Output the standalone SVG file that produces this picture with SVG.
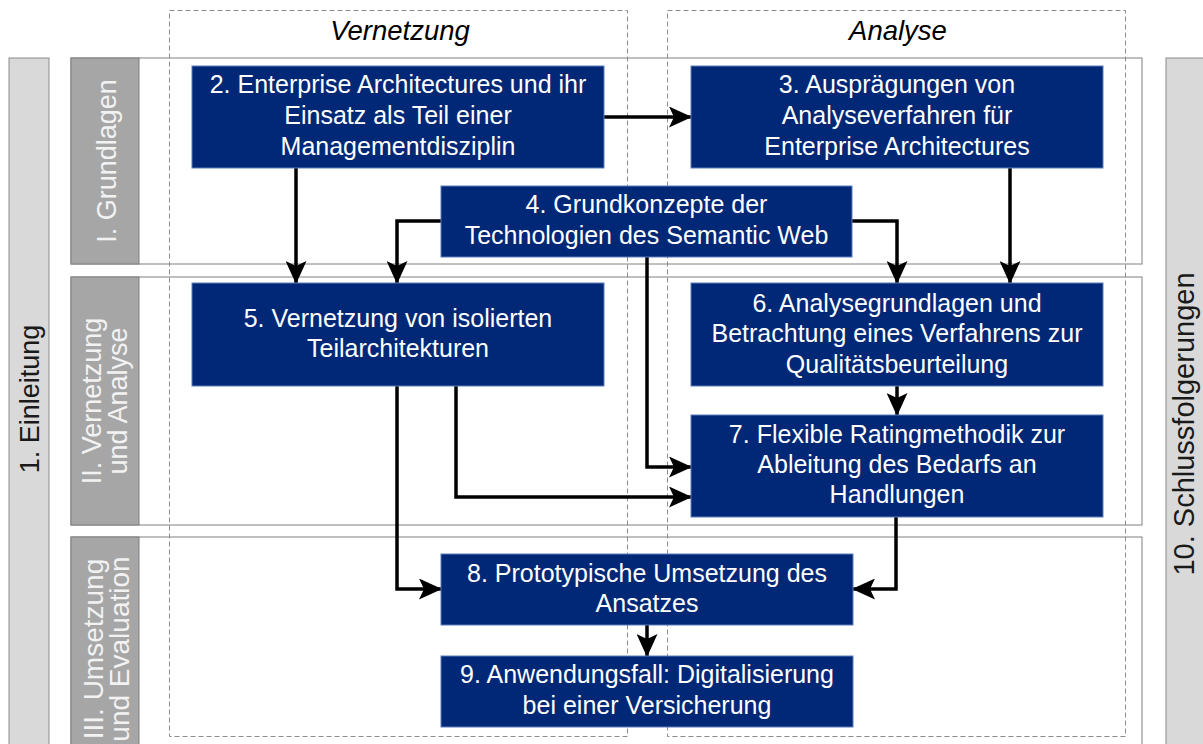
<svg xmlns="http://www.w3.org/2000/svg" width="1203" height="744" viewBox="0 0 1203 744">
<style>
.bar{fill:#d9d9d9;stroke:#8c8c8c;stroke-width:1}
.frame{fill:#ffffff;stroke:#808080;stroke-width:1}
.lab{fill:#a6a6a6;stroke:#7f7f7f;stroke-width:1}
.col{fill:none;stroke:#8c8c8c;stroke-width:1;stroke-dasharray:5,3}
.box{fill:#012877;stroke:#5d7cbc;stroke-width:1}
.bt{font-family:"Liberation Sans",Arial,sans-serif;font-size:25px;fill:#ffffff;text-anchor:middle}
.vt{font-family:"Liberation Sans",Arial,sans-serif;font-size:27px;text-anchor:middle}
.title{font-family:"Liberation Sans",Arial,sans-serif;font-size:27.5px;font-style:italic;fill:#000;text-anchor:middle}
.con{fill:none;stroke:#000;stroke-width:3.5;stroke-linejoin:miter}
</style>
<defs>
<marker id="ah" markerUnits="userSpaceOnUse" markerWidth="23" markerHeight="21" viewBox="0 0 23 21" refX="22" refY="10.5" orient="auto">
<path d="M0,0 L23,10.5 L0,21 L5,10.5 z" fill="#000"/>
</marker>
</defs>

<g id="side-bars">
<rect class="bar" x="9" y="58" width="40" height="700"/>
<text class="vt" fill="#1a1a1a" transform="translate(39,399) rotate(-90)">1. Einleitung</text>
<rect class="bar" x="1166" y="58" width="50" height="700"/>
<text class="vt" fill="#1a1a1a" style="font-size:29px" transform="translate(1194,424) rotate(-90)">10. Schlussfolgerungen</text>
</g>

<g id="sections">
<g id="section-1">
<rect class="frame" x="71" y="58" width="1071" height="206"/>
<rect class="lab" x="71" y="58" width="68" height="206"/>
<text class="vt" fill="#f2f2f2" transform="translate(116,161) rotate(-90)">I. Grundlagen</text>
</g>
<g id="section-2">
<rect class="frame" x="71" y="277" width="1071" height="248"/>
<rect class="lab" x="71" y="277" width="68" height="248"/>
<text class="vt" fill="#f2f2f2" transform="translate(101,401) rotate(-90)">II. Vernetzung</text>
<text class="vt" fill="#f2f2f2" transform="translate(127,401) rotate(-90)">und Analyse</text>
</g>
<g id="section-3">
<rect class="frame" x="71" y="537" width="1071" height="230"/>
<rect class="lab" x="71" y="537" width="68" height="230"/>
<text class="vt" fill="#f2f2f2" style="font-size:28px" transform="translate(103,649) rotate(-90)">III. Umsetzung</text>
<text class="vt" fill="#f2f2f2" style="font-size:28px" transform="translate(129,649) rotate(-90)">und Evaluation</text>
</g>
</g>

<g id="columns">
<rect class="col" x="169.5" y="10.5" width="458" height="726"/>
<text class="title" x="400" y="40">Vernetzung</text>
<rect class="col" x="667.5" y="10.5" width="458" height="726"/>
<text class="title" x="898" y="40">Analyse</text>
</g>

<g id="connectors">
<path class="con" marker-end="url(#ah)" d="M604,117 H691"/>
<path class="con" marker-end="url(#ah)" d="M296,168 V283"/>
<path class="con" marker-end="url(#ah)" d="M441,221 H397 V283"/>
<path class="con" marker-end="url(#ah)" d="M852,221 H897 V283"/>
<path class="con" marker-end="url(#ah)" d="M1010,168 V283"/>
<path class="con" marker-end="url(#ah)" d="M647,257 V467 H691"/>
<path class="con" marker-end="url(#ah)" d="M456,386 V497 H691"/>
<path class="con" marker-end="url(#ah)" d="M897,386 V415"/>
<path class="con" marker-end="url(#ah)" d="M397,386 V589 H441"/>
<path class="con" marker-end="url(#ah)" d="M896,517 V589 H853"/>
<path class="con" marker-end="url(#ah)" d="M647,625 V656"/>
</g>

<g id="node-2">
<rect class="box" x="192" y="66" width="412" height="102"/>
<text class="bt" x="398" y="93">2. Enterprise Architectures und ihr</text>
<text class="bt" x="398" y="124">Einsatz als Teil einer</text>
<text class="bt" x="398" y="155">Managementdisziplin</text>
</g>
<g id="node-3">
<rect class="box" x="691" y="66" width="412" height="102"/>
<text class="bt" x="897" y="93">3. Ausprägungen von</text>
<text class="bt" x="897" y="124">Analyseverfahren für</text>
<text class="bt" x="897" y="155">Enterprise Architectures</text>
</g>
<g id="node-4">
<rect class="box" x="441" y="186" width="411" height="71"/>
<text class="bt" x="646.5" y="213">4. Grundkonzepte der</text>
<text class="bt" x="646.5" y="244">Technologien des Semantic Web</text>
</g>
<g id="node-5">
<rect class="box" x="192" y="283" width="412" height="103"/>
<text class="bt" x="398" y="327">5. Vernetzung von isolierten</text>
<text class="bt" x="398" y="357">Teilarchitekturen</text>
</g>
<g id="node-6">
<rect class="box" x="691" y="283" width="412" height="103"/>
<text class="bt" x="897" y="312">6. Analysegrundlagen und</text>
<text class="bt" x="897" y="342">Betrachtung eines Verfahrens zur</text>
<text class="bt" x="897" y="373">Qualitätsbeurteilung</text>
</g>
<g id="node-7">
<rect class="box" x="691" y="415" width="412" height="102"/>
<text class="bt" x="897" y="443">7. Flexible Ratingmethodik zur</text>
<text class="bt" x="897" y="473">Ableitung des Bedarfs an</text>
<text class="bt" x="897" y="503">Handlungen</text>
</g>
<g id="node-8">
<rect class="box" x="441" y="554" width="412" height="71"/>
<text class="bt" x="647" y="582">8. Prototypische Umsetzung des</text>
<text class="bt" x="647" y="612">Ansatzes</text>
</g>
<g id="node-9">
<rect class="box" x="441" y="656" width="412" height="71"/>
<text class="bt" x="647" y="683">9. Anwendungsfall: Digitalisierung</text>
<text class="bt" x="647" y="714">bei einer Versicherung</text>
</g>
</svg>
